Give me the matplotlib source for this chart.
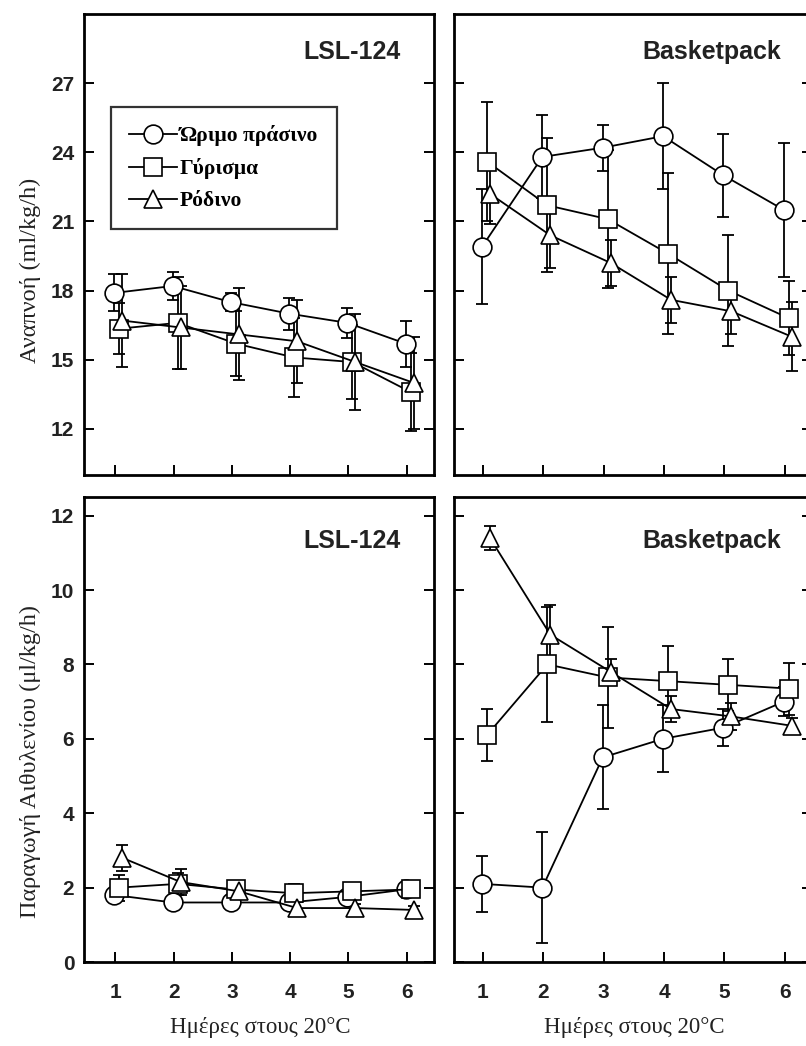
import matplotlib
matplotlib.use("Agg")
import matplotlib.pyplot as plt
from matplotlib.transforms import ScaledTranslation

# ---------------- data ----------------
days = [1, 2, 3, 4, 5, 6]
series_names = ["Ώριμο πράσινο", "Γύρισμα", "Ρόδινο"]

resp_lsl_ripe = [17.9, 18.2, 17.5, 17.0, 16.6, 15.7]
resp_lsl_ripe_err = [0.8, 0.6, 0.4, 0.7, 0.65, 1.0]
resp_lsl_turn = [16.35, 16.6, 15.7, 15.1, 14.9, 13.6]
resp_lsl_turn_err = [1.1, 2.0, 1.4, 1.7, 1.6, 1.7]
resp_lsl_pink = [16.7, 16.4, 16.1, 15.8, 14.9, 14.0]
resp_lsl_pink_err = [2.0, 1.8, 2.0, 1.8, 2.1, 2.0]

resp_bp_ripe = [19.9, 23.8, 24.2, 24.7, 23.0, 21.5]
resp_bp_ripe_err = [2.5, 1.8, 1.0, 2.3, 1.8, 2.9]
resp_bp_turn = [23.6, 21.7, 21.1, 19.6, 18.0, 16.8]
resp_bp_turn_err = [2.6, 2.9, 3.0, 3.5, 2.4, 1.6]
resp_bp_pink = [22.2, 20.4, 19.2, 17.6, 17.1, 16.0]
resp_bp_pink_err = [1.3, 1.4, 1.0, 1.0, 1.0, 1.5]

eth_lsl_ripe = [1.8, 1.6, 1.6, 1.6, 1.75, 1.95]
eth_lsl_ripe_err = [0.15, 0.15, 0.15, 0.15, 0.15, 0.15]
eth_lsl_turn = [2.0, 2.1, 1.95, 1.85, 1.9, 1.95]
eth_lsl_turn_err = [0.35, 0.3, 0.2, 0.25, 0.15, 0.15]
eth_lsl_pink = [2.8, 2.15, 1.9, 1.45, 1.45, 1.4]
eth_lsl_pink_err = [0.35, 0.35, 0.2, 0.15, 0.1, 0.1]

eth_bp_ripe = [2.1, 2.0, 5.5, 6.0, 6.3, 7.0]
eth_bp_ripe_err = [0.75, 1.5, 1.4, 0.9, 0.5, 0.4]
eth_bp_turn = [6.1, 8.0, 7.65, 7.55, 7.45, 7.35]
eth_bp_turn_err = [0.7, 1.55, 1.35, 0.95, 0.7, 0.7]
eth_bp_pink = [11.4, 8.8, 7.8, 6.8, 6.6, 6.35]
eth_bp_pink_err = [0.33, 0.8, 0.35, 0.35, 0.35, 0.2]

resp_ticks = [12, 15, 18, 21, 24, 27]
eth_ticks = [0, 2, 4, 6, 8, 10, 12]

panel_titles = ["LSL-124", "Basketpack", "LSL-124", "Basketpack"]
ylabel_resp = "Αναπνοή (ml/kg/h)"
ylabel_eth = "Παραγωγή Αιθυλενίου (μl/kg/h)"
xlabel = "Ημέρες στους 20°C"

# ---------------- style ----------------
W, H = 806, 1046
fig = plt.figure(figsize=(W / 100, H / 100), dpi=100)
fig.patch.set_facecolor("white")

def rect(l, r, t, b):
    return [l / W, 1 - b / H, (r - l) / W, (b - t) / H]

ax_tl = fig.add_axes(rect(84, 434, 14, 475))
ax_tr = fig.add_axes(rect(454, 812, 14, 475))
ax_bl = fig.add_axes(rect(84, 434, 497, 962))
ax_br = fig.add_axes(rect(454, 812, 497, 962))

markers = ["o", "s", "^"]
msizes = [13.5, 12.5, 13.5]
offsets_pt = [-0.7, 2.9, 5.0]

sans = ["Liberation Sans", "DejaVu Sans"]
serif = ["Liberation Serif", "DejaVu Serif"]

def draw(ax, vals, errs):
    handles = []
    for i, (v, e) in enumerate(zip(vals, errs)):
        tr = ax.transData + ScaledTranslation(offsets_pt[i] / 72, 0, fig.dpi_scale_trans)
        cont = ax.errorbar(days, v, yerr=e, fmt="none", ecolor="black",
                           elinewidth=1.3, capsize=4.5, capthick=1.3, zorder=2)
        for c in cont.lines[1]:
            c.set_transform(tr)
        for c in cont.lines[2]:
            c.set_transform(tr)
        ln, = ax.plot(days, v, color="black", lw=1.3, marker=markers[i],
                      ms=msizes[i], mfc="white", mec="black", mew=1.2,
                      transform=tr, zorder=3 + i, label=series_names[i])
        handles.append(ln)
    return handles

def style(ax, ylim, yticks, xlim, show_ylabels, show_xlabels):
    ax.set_xlim(*xlim)
    ax.set_ylim(*ylim)
    ax.set_xticks(days)
    ax.set_yticks(yticks)
    for s in ax.spines.values():
        s.set_linewidth(2.0)
    ax.tick_params(axis="both", direction="in", length=7, width=1.4,
                   right=True, top=False)
    ax.tick_params(axis="y", pad=7)
    ax.tick_params(axis="x", pad=15)
    if show_ylabels:
        ax.set_yticklabels([str(t) for t in yticks])
    else:
        ax.set_yticklabels([])
    if show_xlabels:
        ax.set_xticklabels([str(d) for d in days])
    else:
        ax.set_xticklabels([])
    for lab in ax.get_xticklabels() + ax.get_yticklabels():
        lab.set_family(sans)
        lab.set_fontweight("bold")
        lab.set_fontsize(15)
        lab.set_color("#222222")

h = draw(ax_tl, [resp_lsl_ripe, resp_lsl_turn, resp_lsl_pink],
         [resp_lsl_ripe_err, resp_lsl_turn_err, resp_lsl_pink_err])
draw(ax_tr, [resp_bp_ripe, resp_bp_turn, resp_bp_pink],
     [resp_bp_ripe_err, resp_bp_turn_err, resp_bp_pink_err])
draw(ax_bl, [eth_lsl_ripe, eth_lsl_turn, eth_lsl_pink],
     [eth_lsl_ripe_err, eth_lsl_turn_err, eth_lsl_pink_err])
draw(ax_br, [eth_bp_ripe, eth_bp_turn, eth_bp_pink],
     [eth_bp_ripe_err, eth_bp_turn_err, eth_bp_pink_err])

style(ax_tl, (10, 30), resp_ticks, (0.46, 6.47), True, False)
style(ax_tr, (10, 30), resp_ticks, (0.52, 6.45), False, False)
style(ax_bl, (0, 12.5), eth_ticks, (0.46, 6.47), True, True)
style(ax_br, (0, 12.5), eth_ticks, (0.52, 6.45), False, True)

for ax, t in zip([ax_tl, ax_tr, ax_bl, ax_br], panel_titles):
    ax.text(0.905 if ax in (ax_tl, ax_bl) else 0.915, 0.918 if ax in (ax_tl, ax_tr) else 0.905,
            t, transform=ax.transAxes, ha="right", va="center",
            family=sans, fontweight="bold", fontsize=18, color="#222222")

leg = ax_tl.legend(handles=h, loc="upper left", bbox_to_anchor=(0.077, 0.798),
                   prop={"family": serif, "weight": "bold", "size": 15.5},
                   frameon=True, fancybox=False, edgecolor="black",
                   handlelength=2.2, handletextpad=0.15, labelspacing=0.55,
                   borderpad=0.85, borderaxespad=0)
leg.get_frame().set_linewidth(1.6)

fig.text(30 / W, 1 - 270 / H, ylabel_resp, rotation=90, ha="center", va="center",
         family=serif, fontsize=17.5, color="#222222")
fig.text(30 / W, 1 - 762 / H, ylabel_eth, rotation=90, ha="center", va="center",
         family=serif, fontsize=17.5, color="#222222")
fig.text(260 / W, 1 - 1028 / H, xlabel, ha="center", va="center",
         family=serif, fontsize=16.5, color="#222222")
fig.text(634 / W, 1 - 1028 / H, xlabel, ha="center", va="center",
         family=serif, fontsize=16.5, color="#222222")

fig.savefig("out.png", dpi=100, facecolor="white")
